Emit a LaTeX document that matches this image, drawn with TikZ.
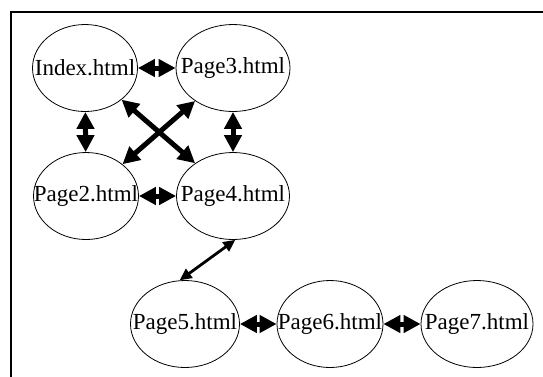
\documentclass[tikz,border=0pt]{standalone}
\usepackage{fontspec}
\setmainfont{Liberation Serif}
\usetikzlibrary{shapes.geometric,arrows.meta}

\tikzset{
  pagenode/.style={draw, ellipse, inner sep=0pt, line width=0.8pt,
    minimum height=87pt, font=\fontsize{23}{27}\selectfont},
  biglink/.style={line width=5pt,
    arrows={Triangle[length=17pt,width=17pt]-Triangle[length=17pt,width=17pt]}},
  thinlink/.style={line width=2.8pt,
    arrows={Triangle[length=12pt,width=11pt]-Triangle[length=12pt,width=11pt]}},
  frame/.style={line width=2pt}
}

\begin{document}
\begin{tikzpicture}[x=1pt,y=-1pt]
\useasboundingbox (0,0) rectangle (543,376);
\clip (0,0) rectangle (543,376);

% outer frame, running off the right and bottom edges
\draw[frame] (10.5,11.5) rectangle (560,390);

% pages
\node[pagenode, minimum width=105pt] (index) at (85,68)  {\makebox[0pt]{Index.html}};
\node[pagenode, minimum width=114pt] (p3)    at (233,68) {\makebox[0pt]{Page3.html}};
\node[pagenode, minimum width=105pt] (p2)    at (86,196) {\makebox[0pt]{Page2.html}};
\node[pagenode, minimum width=113pt] (p4)    at (233,196){\makebox[0pt]{Page4.html}};
\node[pagenode, minimum width=109pt] (p5)    at (185,324){\makebox[0pt]{Page5.html}};
\node[pagenode, minimum width=106pt] (p6)    at (330,324){\makebox[0pt]{Page6.html}};
\node[pagenode, minimum width=112pt] (p7)    at (477,324){\makebox[0pt]{Page7.html}};

% links
\draw[biglink] (index) -- (p3);
\draw[biglink] (index) -- (p2);
\draw[biglink] (p3) -- (p4);
\draw[biglink] (p2) -- (p4);
\draw[biglink] (index) -- (p4);
\draw[biglink] (p3) -- (p2);
\draw[thinlink] (p4.273) -- (p5.97);
\draw[biglink] (p5) -- (p6);
\draw[biglink] (p6) -- (p7);
\end{tikzpicture}
\end{document}
